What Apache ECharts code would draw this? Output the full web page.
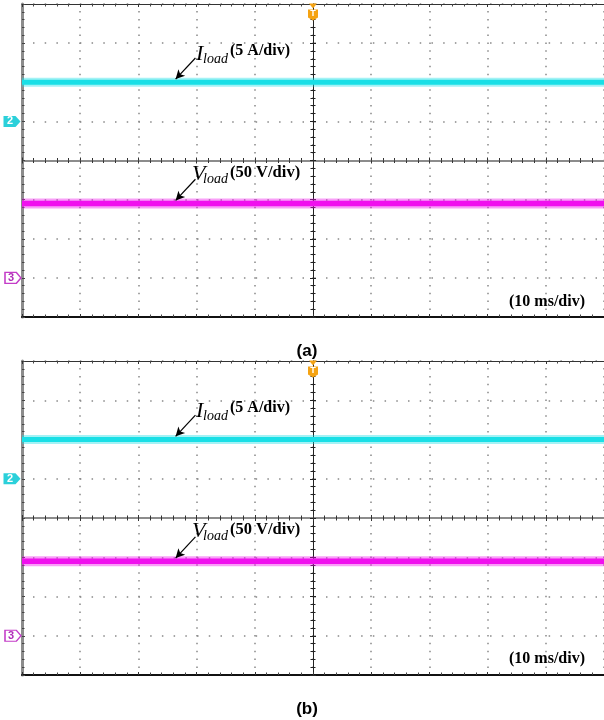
<!DOCTYPE html>
<html>
<head>
<meta charset="utf-8">
<script src="https://cdn.jsdelivr.net/npm/echarts@6/dist/echarts.min.js"></script>
<style>
  html, body { margin: 0; padding: 0; background: #fff; }
  #chart { width: 604px; height: 720px; }
</style>
</head>
<body>
<div id="chart"></div>
<script>
// Scope settings and readings, one entry per panel (a), (b)
const timeWindow = [-50, 50];      // ms, trigger at 0
const timePerDiv = 10;             // ms/div
const vertDivs = [-4, 4];          // graticule rows, in divisions
const currentPerDiv = 5;           // A/div  (channel 2)
const voltagePerDiv = 50;          // V/div  (channel 3)
const ch2Ground = [1, 1];          // channel 2 ground marker (div)
const ch3Ground = [-3, -3];        // channel 3 ground marker (div)
const loadCurrent = [5, 5];        // A
const loadVoltage = [95, 95];      // V
const panelTags = ['(a)', '(b)'];

// Panel placement
const panels = [
  { top: 4, height: 313 },
  { top: 361, height: 314 }
];
const gridLeft = 22, gridWidth = 586;

const CYAN = '#19dfe6';
const MAGENTA = '#f010ee';
const ORANGE = '#f5a312';

const grids = [], xAxes = [], yAxes = [], series = [], graphics = [];

function tickStyle(color) {
  return { show: true, inside: true, length: 3, lineStyle: { color: color, width: 1 } };
}
function minorStyle(color) {
  return { show: true, splitNumber: 5, length: 2.5, lineStyle: { color: color, width: 1 } };
}

panels.forEach((p, k) => {
  grids.push({ left: gridLeft, top: p.top, width: gridWidth, height: p.height, show: false });
  const xBase = {
    type: 'value', gridIndex: k, min: timeWindow[0], max: timeWindow[1], interval: timePerDiv,
    axisLabel: { show: false }
  };
  const yBase = {
    type: 'value', gridIndex: k, min: vertDivs[0], max: vertDivs[1], interval: 1,
    axisLabel: { show: false }
  };
  const xDot = p.height / 40, yDot = gridWidth / 50;
  // bottom border with the vertical dotted graticule
  xAxes.push(Object.assign({}, xBase, {
    position: 'bottom',
    axisLine: { show: true, onZero: false, lineStyle: { color: '#111', width: 2 } },
    axisTick: tickStyle('#333'), minorTick: minorStyle('#444'),
    splitLine: { show: true, lineStyle: { color: '#888', width: 1.5, type: [1.5, xDot - 1.5], dashOffset: 0.75 } }
  }));
  // top border
  xAxes.push(Object.assign({}, xBase, {
    position: 'top',
    axisLine: { show: true, onZero: false, lineStyle: { color: '#333', width: 1 } },
    axisTick: tickStyle('#333'), minorTick: minorStyle('#444'), splitLine: { show: false }
  }));
  // centre horizontal line, ticks on both sides
  ['bottom', 'top'].forEach(pos => {
    xAxes.push(Object.assign({}, xBase, {
      position: pos,
      axisLine: { show: true, onZero: true, lineStyle: { color: '#8c8c8c', width: 2 } },
      axisTick: tickStyle('#333'), minorTick: minorStyle('#333'), splitLine: { show: false }
    }));
  });
  // left border with the horizontal dotted graticule
  yAxes.push(Object.assign({}, yBase, {
    position: 'left',
    axisLine: { show: true, onZero: false, lineStyle: { color: '#8c8c8c', width: 3 } },
    axisTick: tickStyle('#444'), minorTick: minorStyle('#444'),
    splitLine: { show: true, lineStyle: { color: '#888', width: 1.5, type: [1.5, yDot - 1.5], dashOffset: 0.75 } }
  }));
  // centre vertical line, ticks on both sides
  ['left', 'right'].forEach(pos => {
    yAxes.push(Object.assign({}, yBase, {
      position: pos,
      axisLine: { show: true, onZero: true, lineStyle: { color: '#222', width: 1 } },
      axisTick: tickStyle('#222'), minorTick: minorStyle('#222'), splitLine: { show: false }
    }));
  });

  const xi = k * 4, yi = k * 3;
  const iLevel = ch2Ground[k] + loadCurrent[k] / currentPerDiv;
  const vLevel = ch3Ground[k] + loadVoltage[k] / voltagePerDiv;

  function trace(level, color, width, haloWidth) {
    const pts = timeWindow.map(t => [t, level]);
    series.push({
      type: 'line', xAxisIndex: xi, yAxisIndex: yi, data: pts, symbol: 'none', silent: true,
      lineStyle: { color: color, width: haloWidth, opacity: 0.4 }, z: 3
    });
    return {
      type: 'line', xAxisIndex: xi, yAxisIndex: yi, data: pts, symbol: 'none', silent: true,
      lineStyle: { color: color, width: width }, z: 4
    };
  }

  const arrowLine = (level) => ({
    symbol: ['none', 'arrow'], symbolSize: [7, 9], silent: true,
    lineStyle: { color: '#000', width: 1.2, type: 'solid' }, label: { show: false },
    data: [[{ coord: [-20.2, level + 0.62] }, { coord: [-23.6, level + 0.08] }]]
  });

  // channel 2: load current
  const cur = trace(iLevel, CYAN, 5, 9);
  cur.markLine = arrowLine(iLevel);
  cur.markPoint = {
    silent: true,
    data: [
      {
        coord: [timeWindow[0], ch2Ground[k]],
        symbol: 'path://M0,0L12,0L17,5.5L12,11L0,11Z', symbolSize: [17, 11], symbolOffset: [-10, 0],
        itemStyle: { color: '#2bd0da' },
        label: { show: true, formatter: '2', color: '#fff', fontWeight: 'bold', fontSize: 11, fontFamily: 'Arial, "Liberation Sans"', offset: [-2, 0] }
      },
      {
        coord: [0, vertDivs[1]],
        symbol: 'path://M0,0L8,0L4,5Z', symbolSize: [8, 5], symbolOffset: [0, 2],
        itemStyle: { color: ORANGE }, label: { show: false }
      },
      {
        coord: [0, vertDivs[1]],
        symbol: 'path://M0,0L10,0L10,8L5,11L0,8Z', symbolSize: [10, 11], symbolOffset: [0, 11],
        itemStyle: { color: ORANGE },
        label: { show: true, formatter: 'T', color: '#fff', fontWeight: 'bold', fontSize: 9, fontFamily: 'Arial, "Liberation Sans"', offset: [0, -1] }
      }
    ]
  };
  series.push(cur);

  // channel 3: load voltage
  const volt = trace(vLevel, MAGENTA, 5.5, 10);
  volt.markLine = arrowLine(vLevel);
  volt.markPoint = {
    silent: true,
    data: [{
      coord: [timeWindow[0], ch3Ground[k]],
      symbol: 'path://M0,0L12,0L17,5.5L12,11L0,11Z', symbolSize: [16, 11], symbolOffset: [-9, 0],
      itemStyle: { color: '#fff', borderColor: '#c43cc8', borderWidth: 1.3 },
      label: { show: true, formatter: '3', color: '#b02cb8', fontWeight: 'bold', fontSize: 11, fontFamily: 'Arial, "Liberation Sans"', offset: [-2, 0] }
    }]
  };
  series.push(volt);

  // annotations
  const dy = p.top - panels[0].top;
  const serif = '"Liberation Serif", "Times New Roman", serif';
  const txt = (x, y, text, size, style, weight) => ({
    type: 'text', x: x, y: y + dy, silent: true, z: 100,
    style: { text: text, fill: '#000', fontSize: size, fontStyle: style, fontWeight: weight,
             fontFamily: serif, align: 'left', verticalAlign: 'middle' }
  });
  graphics.push(txt(196, 54, 'I', 22, 'italic', 'normal'));
  graphics.push(txt(203, 59, 'load', 14, 'italic', 'normal'));
  graphics.push(txt(230, 51, '(5 A/div)', 16, 'normal', 'bold'));
  graphics.push(txt(192, 174, 'V', 22, 'italic', 'normal'));
  graphics.push(txt(203, 179, 'load', 14, 'italic', 'normal'));
  graphics.push(txt(230, 173, '(50 V/div)', 16.5, 'normal', 'bold'));
  graphics.push(txt(509, 302, '(10 ms/div)', 16, 'normal', 'bold'));
  graphics.push({
    type: 'text', x: 307, y: p.top + p.height + 34, silent: true,
    style: { text: panelTags[k], fill: '#000', fontSize: 17, fontWeight: 'bold',
             fontFamily: 'Arial, "Liberation Sans", sans-serif', align: 'center', verticalAlign: 'middle' }
  });
});

const chart = echarts.init(document.getElementById('chart'), null, { renderer: 'canvas' });
chart.setOption({
  animation: false,
  backgroundColor: '#fff',
  grid: grids,
  xAxis: xAxes,
  yAxis: yAxes,
  series: series,
  graphic: graphics
});
</script>
</body>
</html>
